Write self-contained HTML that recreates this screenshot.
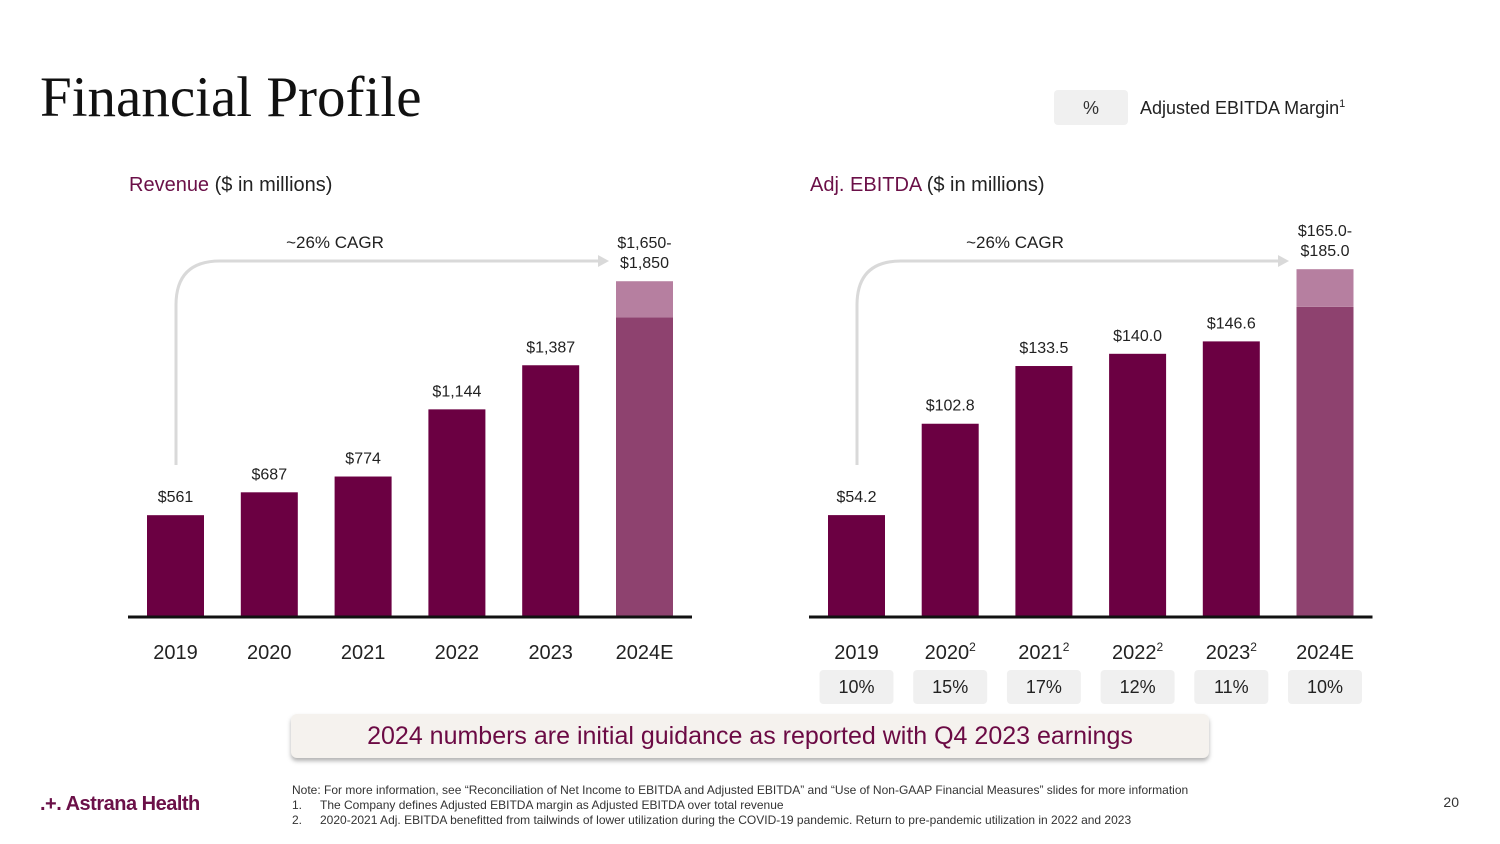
<!DOCTYPE html>
<html><head><meta charset="utf-8"><style>
body{margin:0;width:1500px;height:844px;background:#fff;overflow:hidden;font-family:"Liberation Sans",sans-serif}
svg{position:absolute;left:0;top:0}
</style></head><body>
<svg width="1500" height="844" id="s">
<text x="40" y="116" font-family="Liberation Serif" font-size="57" fill="#111" letter-spacing="0">Financial Profile</text>
<rect x="1054" y="90" width="74" height="35" rx="4" fill="#f0f0f0"/>
<text x="1091" y="114" font-size="18" text-anchor="middle" fill="#333">%</text>
<text x="1140" y="114" font-size="18" fill="#222">Adjusted EBITDA Margin<tspan font-size="11" dy="-7">1</tspan></text>
<text x="129" y="191" font-size="20" fill="#222"><tspan fill="#6b1048">Revenue</tspan> ($ in millions)</text>
<text x="810" y="191" font-size="20" fill="#222"><tspan fill="#6b1048">Adj. EBITDA</tspan> ($ in millions)</text>
<text x="335" y="248" font-size="17" text-anchor="middle" fill="#222">~26% CAGR</text>
<text x="1015" y="248" font-size="17" text-anchor="middle" fill="#222">~26% CAGR</text>
<path d="M176 465 V305 Q176 261 220 261 H598" fill="none" stroke="#d9d9d9" stroke-width="3"/>
<path d="M598 255 L609 261 L598 267 Z" fill="#d9d9d9"/>
<path d="M857 465 V305 Q857 261 901 261 H1278" fill="none" stroke="#d9d9d9" stroke-width="3"/>
<path d="M1278 255 L1289 261 L1278 267 Z" fill="#d9d9d9"/>
<g id="rev"></g><g id="ebt"></g>
<rect x="291" y="714" width="918" height="44" rx="6" fill="#f5f2ee" style="filter:drop-shadow(0 3px 2px rgba(0,0,0,0.3))"/>
<text x="750" y="744" font-size="25" text-anchor="middle" fill="#6b0a44">2024 numbers are initial guidance as reported with Q4 2023 earnings</text>
<text x="40" y="810" font-size="20" font-weight="bold" fill="#6b1048" letter-spacing="-0.5">.+. Astrana Health</text>
<g font-size="12" fill="#333">
<text x="292" y="794">Note: For more information, see “Reconciliation of Net Income to EBITDA and Adjusted EBITDA” and “Use of Non-GAAP Financial Measures” slides for more information</text>
<text x="292" y="809">1.</text><text x="320" y="809">The Company defines Adjusted EBITDA margin as Adjusted EBITDA over total revenue</text>
<text x="292" y="824">2.</text><text x="320" y="824">2020-2021 Adj. EBITDA benefitted from tailwinds of lower utilization during the COVID-19 pandemic.  Return to pre-pandemic utilization in 2022 and 2023</text>
</g>
<text x="1459" y="807" font-size="14" text-anchor="end" fill="#333">20</text>
</svg>
<script>
const revYears=["2019","2020","2021","2022","2023","2024E"];
const revValues=[561,687,774,1144,1387,1650];
const revHigh=[null,null,null,null,null,1850];
const revLabels=["$561","$687","$774","$1,144","$1,387","$1,650-|$1,850"];
const ebYears=["2019","2020","2021","2022","2023","2024E"];
const ebSup=["","2","2","2","2",""];
const ebValues=[54.2,102.8,133.5,140.0,146.6,165.0];
const ebHigh=[null,null,null,null,null,185.0];
const ebLabels=["$54.2","$102.8","$133.5","$140.0","$146.6","$165.0-|$185.0"];
const margins=["10%","15%","17%","12%","11%","10%"];
const NS="http://www.w3.org/2000/svg";
function mk(p,t,a){const e=document.createElementNS(NS,t);for(const k in a)e.setAttribute(k,a[k]);p.appendChild(e);return e;}
function chart(g,x0,step,scale,years,vals,highs,labels,sups,pills){
  const base=617,w=57;
  const ax=mk(g,'line',{x1:x0-19,x2:x0+step*5+w+19,y1:base,y2:base,stroke:'#111','stroke-width':3});
  
  
  vals.forEach((v,i)=>{
    const x=x0+i*step,cx=x+w/2,y=base-v*scale;
    const est=highs[i]!=null;
    const b=mk(g,'rect',{x:x,y:y,width:w,height:base-y-1.5,fill:est?'#8e426f':'#6b0042'});
    
    
    let top=y;
    if(est){const yh=base-highs[i]*scale;top=yh;
      const r=mk(g,'rect',{x:x,y:yh,width:w,height:y-yh,fill:'#b67fa0'});
      
      }
    const parts=labels[i].split('|');
    parts.forEach((p,j)=>{const t=mk(g,'text',{x:cx,y:top-13-(parts.length-1-j)*20,'font-size':16,'text-anchor':'middle',fill:'#222'});t.textContent=p;
      
      });
    const yl=mk(g,'text',{x:cx,y:659,'font-size':20,'text-anchor':'middle',fill:'#222'});
    yl.textContent=years[i];
    if(sups&&sups[i]){const s=mk(yl,'tspan',{'font-size':12,dy:-8});s.textContent=sups[i];}
    
    
    if(pills){const pr=mk(g,'rect',{x:cx-37,y:670,width:74,height:34,rx:4,fill:'#f0f0f0'});
      
      
      const pt=mk(g,'text',{x:cx,y:693,'font-size':18,'text-anchor':'middle',fill:'#222'});pt.textContent=pills[i];
      
      }
  });
}
chart(document.getElementById('rev'),147,93.8,0.1815,revYears,revValues,revHigh,revLabels,null,null);
chart(document.getElementById('ebt'),828,93.7,1.88,ebYears,ebValues,ebHigh,ebLabels,ebSup,margins);
</script>
</body></html>
